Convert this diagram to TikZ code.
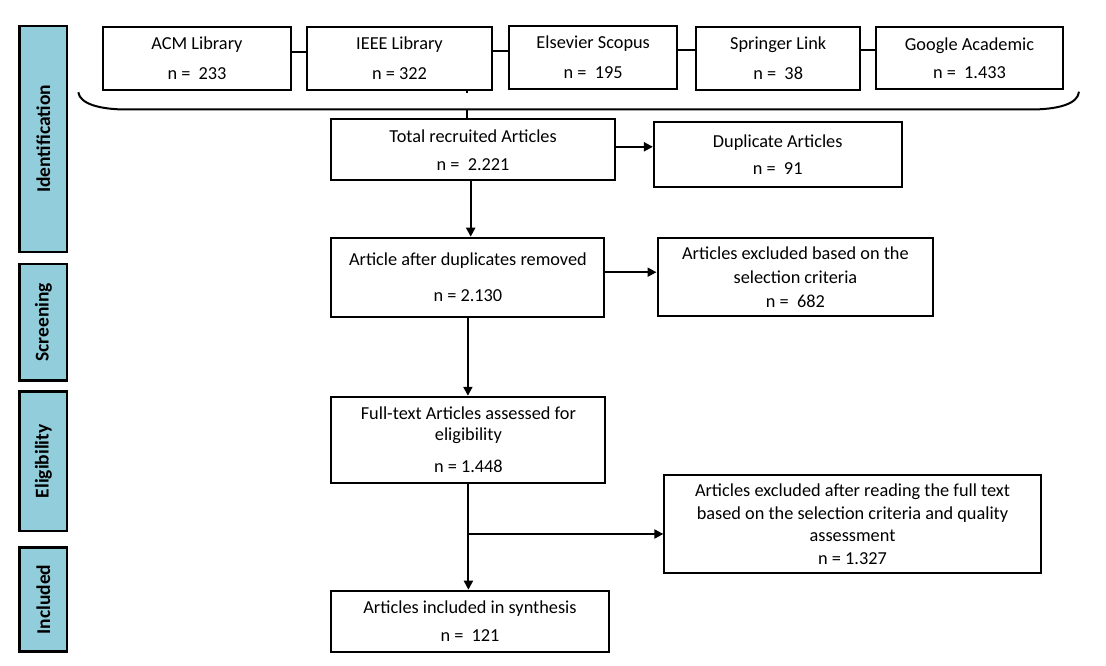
\documentclass[tikz,border=0pt]{standalone}
\usepackage{fontspec}
\setmainfont{Carlito}
\usepackage{tikz}
\usepackage{xcolor}
\usetikzlibrary{arrows.meta}
\usetikzlibrary{positioning,calc}
\definecolor{colorPhase}{HTML}{92CDDC}
\def\colorPhase{colorPhase}

\begin{document}
\begin{tikzpicture}[x=1pt,y=-1pt,
  font=\fontsize{18.3}{22.5}\selectfont,
  boite/.style={draw, line width=2pt, align=center, inner sep=0pt},
  phase/.style={draw, line width=2.5pt, fill=\colorPhase, rotate=90,
    font=\fontsize{19.5}{22}\selectfont\bfseries, inner sep=0pt,
    minimum height=47.5pt},
  fleche/.style={line width=2pt, -{Triangle[length=9pt,width=9pt]}},
  lien/.style={line width=2pt}]

\useasboundingbox (0,0) rectangle (1106,666);

% Les phases
\node[phase, minimum width=225.7pt] (identification) at (43.4,138.9) {Identification};
\node[phase, minimum width=116.7pt] (screening) at (43.4,322.3) {Screening};
\node[phase, minimum width=139.3pt] (eligibility) at (43.4,461.3) {Eligibility};
\node[phase, minimum width=104.4pt] (included) at (43.4,599.5) {Included};

% Les sources
\node[boite, minimum width=187.5pt, minimum height=62.7pt] (acm) at (197,58.7)
    {ACM Library\\[7.5pt]n =\ \ 233};
\node[boite, minimum width=185pt, minimum height=62.7pt] (ieee) at (399.5,58.7)
    {IEEE Library\\[7.5pt]n = 322};
\node[boite, minimum width=168.4pt, minimum height=63.3pt] (elsevier) at (593.2,57.7)
    {Elsevier Scopus\\[7.5pt]n =\ \ 195};
\node[boite, minimum width=164.1pt, minimum height=62.7pt] (springer) at (778.2,58.7)
    {Springer Link\\[7.5pt]n =\ \ 38};
\node[boite, minimum width=186.6pt, minimum height=62.6pt] (google) at (969.5,58)
    {Google Academic\\[6pt]n =\ \ 1.433};

\draw[lien] ([yshift=7pt]acm.east) -- ([yshift=7pt]acm.east -| ieee.west);
\draw[lien] ([yshift=7.5pt]ieee.east) -- ([yshift=7.5pt]ieee.east -| elsevier.west);
\draw[lien] ([yshift=7.5pt]elsevier.east) -- ([yshift=7.5pt]elsevier.east -| springer.west);
\draw[lien] ([yshift=8.5pt]springer.east) -- ([yshift=8.5pt]springer.east -| google.west);

% L'accolade
\draw[lien] (78.3,92.3) .. controls (80,104) and (100,109.5) .. (127,109.5)
    -- (1030,109.5) .. controls (1058,109.5) and (1078,104) .. (1079,91.7);
\draw[lien] (467,91) -- (467,93.5);
\coordinate (accolade) at (467,109.5);

% Le flux principal
\node[boite, minimum width=283.4pt, minimum height=61pt] (total) at (473.1,149.8)
    {Total recruited Articles\\[5.5pt]n =\ \ 2.221};
\node[boite, minimum width=247.6pt, minimum height=65.3pt] (duplicate) at (777.7,154.3)
    {Duplicate Articles\\[4.5pt]n =\ \ 91};
\node[boite, minimum width=273pt, minimum height=79pt] (article) at (467.9,277.2)
    {Article after duplicates removed\\[14pt]n = 2.130};
\node[boite, minimum width=275.8pt, minimum height=77.4pt] (excluded) at (795.4,277)
    {Articles excluded based on the\\[2pt]selection criteria\\[1pt]n =\ \ 682};
\node[boite, minimum width=274pt, minimum height=86.3pt] (fulltext) at (468.4,439.9)
    {Full-text Articles assessed for\\[-1.5pt]eligibility\\[9pt]n = 1.448};
\node[boite, minimum width=376.3pt, minimum height=98.3pt] (excludedfull) at (852.5,524.2)
    {Articles excluded after reading the full text\\based on the selection criteria and quality\\assessment\\n = 1.327};
\node[boite, minimum width=277.3pt, minimum height=61pt] (synthesis) at (470,621.2)
    {Articles included in synthesis\\[5pt]n =\ \ 121};

% Les fleches
\draw[lien] (accolade) -- (accolade |- total.north);
\draw[fleche] ([yshift=3pt]total.east) -- ([yshift=3pt]total.east -| duplicate.west);
\draw[fleche] ([xshift=-2.4pt]total.south) -- ([xshift=-2.4pt]total.south |- article.north);
\draw[fleche] ([yshift=5pt]article.east) -- ([yshift=5pt]article.east -| excluded.west);
\draw[fleche] (article.south) -- (article.south |- fulltext.north);
\draw[fleche] (fulltext.south) -- (fulltext.south |- synthesis.north);
\coordinate (bifurcation) at (468.4,534);
\draw[fleche] (bifurcation) -- (bifurcation -| excludedfull.west);

\end{tikzpicture}
\end{document}
